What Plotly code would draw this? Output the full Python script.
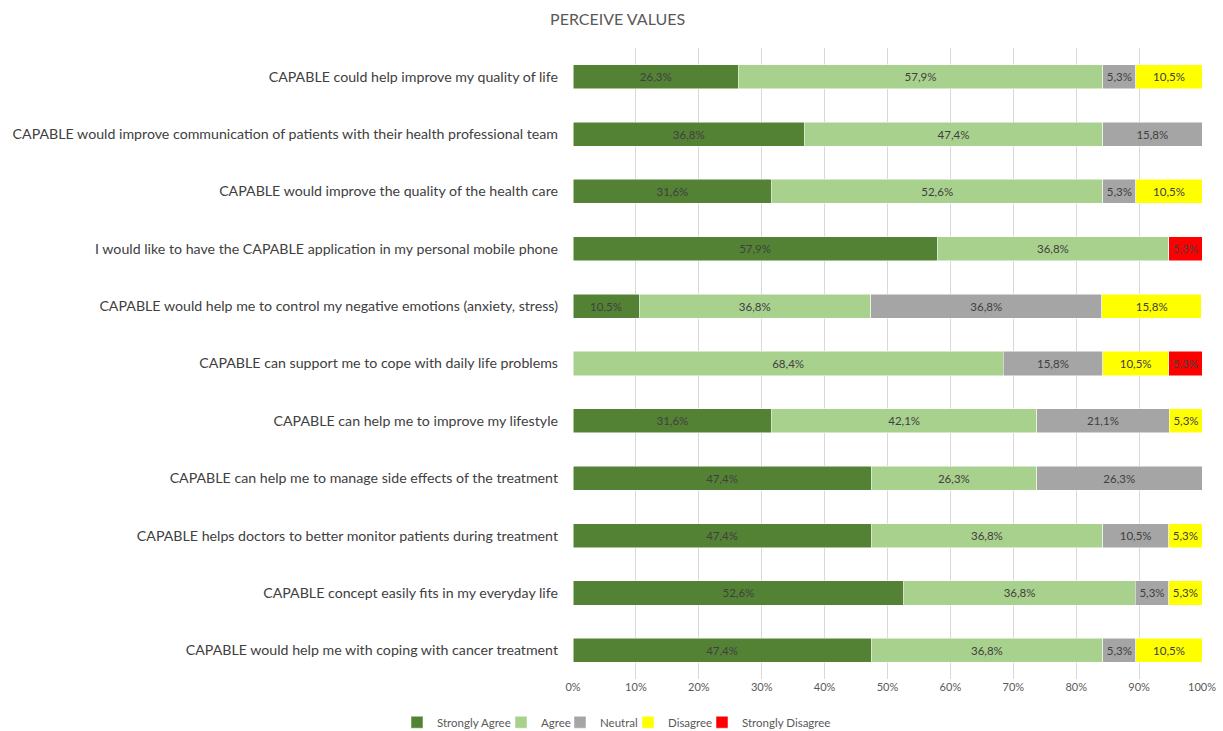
import plotly.graph_objects as go

categories = [
    "CAPABLE could help improve my quality of life",
    "CAPABLE would improve communication of patients with their health professional team",
    "CAPABLE would improve the quality of the health care",
    "I would like to have the CAPABLE application in my personal mobile phone",
    "CAPABLE would help me to control my negative emotions (anxiety, stress)",
    "CAPABLE can support me to cope with daily life problems",
    "CAPABLE can help me to improve my lifestyle",
    "CAPABLE can help me to manage side effects of the treatment",
    "CAPABLE helps doctors to better monitor patients during treatment",
    "CAPABLE concept easily fits in my everyday life",
    "CAPABLE would help me with coping with cancer treatment",
]
strongly_agree = [26.3, 36.8, 31.6, 57.9, 10.5, 0, 31.6, 47.4, 47.4, 52.6, 47.4]
agree = [57.9, 47.4, 52.6, 36.8, 36.8, 68.4, 42.1, 26.3, 36.8, 36.8, 36.8]
neutral = [5.3, 15.8, 5.3, 0, 36.8, 15.8, 21.1, 26.3, 10.5, 5.3, 5.3]
disagree = [10.5, 0, 10.5, 0, 15.8, 10.5, 5.3, 0, 5.3, 5.3, 10.5]
strongly_disagree = [0, 0, 0, 5.3, 0, 5.3, 0, 0, 0, 0, 0]
tick_values = [0, 10, 20, 30, 40, 50, 60, 70, 80, 90, 100]
tick_labels = [f"{v}%" for v in tick_values]

series = [
    ("Strongly Agree", strongly_agree, "#548235"),
    ("Agree", agree, "#A9D18E"),
    ("Neutral", neutral, "#A5A5A5"),
    ("Disagree", disagree, "#FFFF00"),
    ("Strongly Disagree", strongly_disagree, "#FF0000"),
]
# left edge (container fraction) of each legend entry
legend_x = [397 / 1223, 501 / 1223, 560 / 1223, 628 / 1223, 702 / 1223]
legend_ids = ["legend2", "legend3", "legend4", "legend5", "legend6"]

FONT = "Lato"
fig = go.Figure()
for (name, vals, color), lid in zip(series, legend_ids):
    text = [("%.1f%%" % v).replace(".", ",") if v else "" for v in vals]
    fig.add_trace(go.Bar(
        name=name, y=categories, x=vals, orientation="h",
        marker=dict(color=color, line=dict(color="white", width=0.5)),
        text=text, textposition="inside", insidetextanchor="middle",
        textangle=0, constraintext="none",
        textfont=dict(family=FONT, size=11.5, color="#404040"),
        width=0.42, hoverinfo="x+y+name", legend=lid, showlegend=True,
    ))

legends = {}
for lid, lx in zip(legend_ids, legend_x):
    legends[lid] = dict(orientation="h", x=lx, xanchor="left", xref="container",
                        y=0.012, yanchor="middle", yref="container",
                        font=dict(family=FONT, size=11.5, color="#595959"),
                        itemwidth=30, bgcolor="rgba(0,0,0,0)")

fig.update_layout(
    barmode="stack",
    width=1223, height=731,
    margin=dict(l=573, r=21, t=48, b=52, autoexpand=False),
    paper_bgcolor="white", plot_bgcolor="white",
    title=dict(text="PERCEIVE VALUES", x=0.505, xanchor="center", xref="container",
               y=0.974, yanchor="middle", yref="container",
               font=dict(family=FONT, size=16, color="#595959")),
    xaxis=dict(range=[0, 100], tickvals=tick_values, ticktext=tick_labels,
               showgrid=True, gridcolor="#D9D9D9", gridwidth=1, zeroline=False,
               showline=False, automargin=False,
               tickfont=dict(family=FONT, size=11, color="#595959")),
    yaxis=dict(autorange="reversed", tickfont=dict(family=FONT, size=14.2, color="#404040"),
               ticklabelstandoff=14, showgrid=False, showline=False, automargin=False),
    bargap=0.58,
    **legends,
)
fig.write_html("out.html")
